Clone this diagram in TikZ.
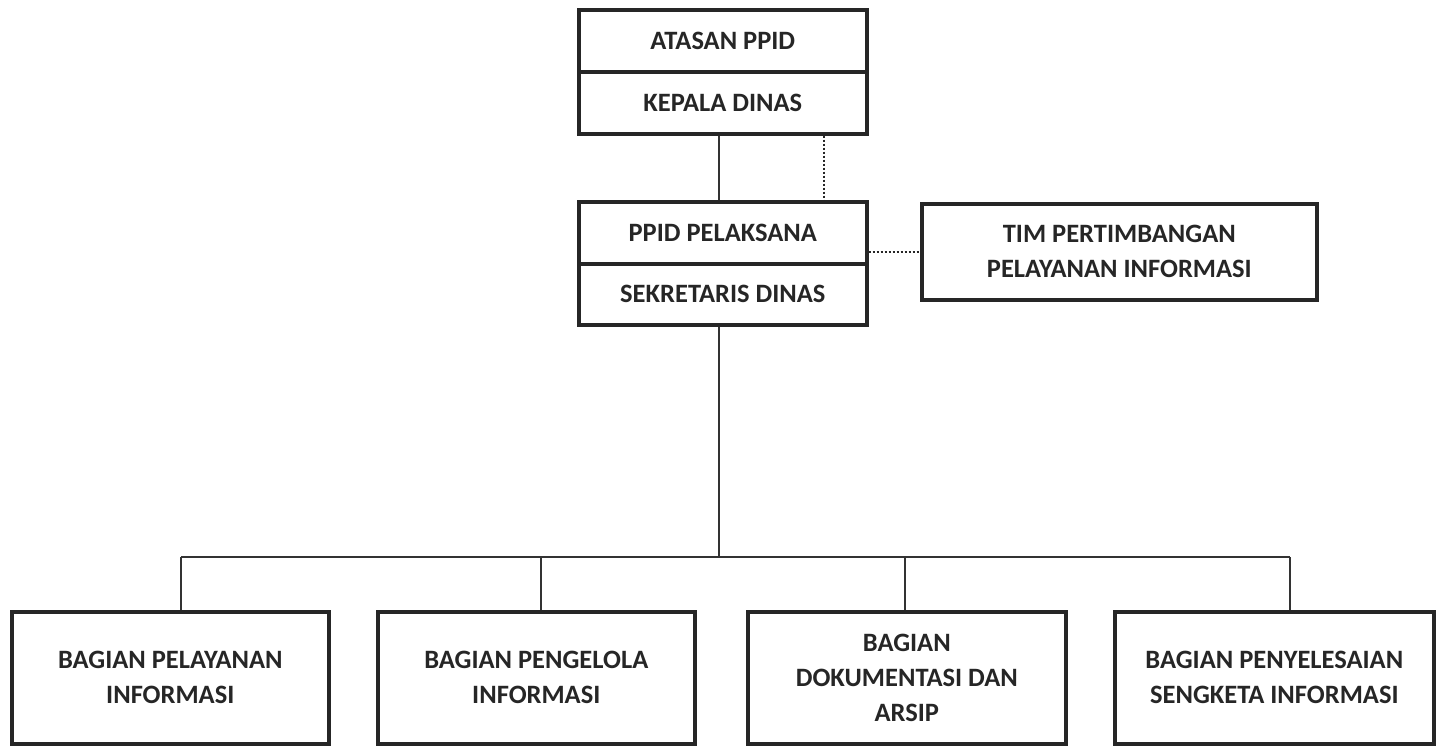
\documentclass[tikz,border=0pt]{standalone}
\usepackage{fontspec}
\setmainfont{Carlito}
\begin{document}
\begin{tikzpicture}[x=1pt,y=-1pt,
  box/.style={draw=black!85, line width=3.6pt, fill=white, anchor=north west, align=center,
    font=\fontsize{26.5}{35}\selectfont\bfseries, text=black!85, inner sep=0pt},
  conn/.style={draw=black!80, line width=1.8pt},
  dotconn/.style={draw=black!85, line width=2.4pt, dash pattern=on 2pt off 2pt}]
\useasboundingbox (0,0) rectangle (1440,745);
\fill[white] (0,0) rectangle (1440,745);
% top group
\node[box, minimum width=288, minimum height=62] (atasan) at (577,8) {ATASAN PPID};
\node[box, minimum width=288, minimum height=62] (kepala) at (577,70) {KEPALA DINAS};
\node[box, minimum width=288, minimum height=62] (ppid) at (577,200) {PPID PELAKSANA};
\node[box, minimum width=288, minimum height=61] (sekr) at (577,262) {SEKRETARIS DINAS};
\node[box, minimum width=395, minimum height=96] (tim) at (920,202) {TIM PERTIMBANGAN\\PELAYANAN INFORMASI};
% bottom boxes
\node[box, minimum width=317, minimum height=132] (b1) at (10,610) {BAGIAN PELAYANAN\\INFORMASI};
\node[box, minimum width=317, minimum height=132] (b2) at (376,610) {BAGIAN PENGELOLA\\INFORMASI};
\node[box, minimum width=318, minimum height=132] (b3) at (746,610) {BAGIAN\\DOKUMENTASI DAN\\ARSIP};
\node[box, minimum width=319, minimum height=132] (b4) at (1113,610) {BAGIAN PENYELESAIAN\\SENGKETA INFORMASI};
% connectors
\coordinate (bus) at (719,557);
\draw[conn] (kepala.south -| 719,0) -- (ppid.north -| 719,0);
\draw[dotconn] (kepala.south -| 824,0) -- (ppid.north -| 824,0);
\draw[dotconn] (ppid.east |- 0,252) -- (tim.west |- 0,252);
\draw[conn] (sekr.south -| bus) -- (bus);
\draw[conn] (181,557) -- (1290,557);
\draw[conn] (181,557) -- (b1.north -| 181,0);
\draw[conn] (541,557) -- (b2.north -| 541,0);
\draw[conn] (905,557) -- (b3.north -| 905,0);
\draw[conn] (1290,557) -- (b4.north -| 1290,0);
\end{tikzpicture}
\end{document}
